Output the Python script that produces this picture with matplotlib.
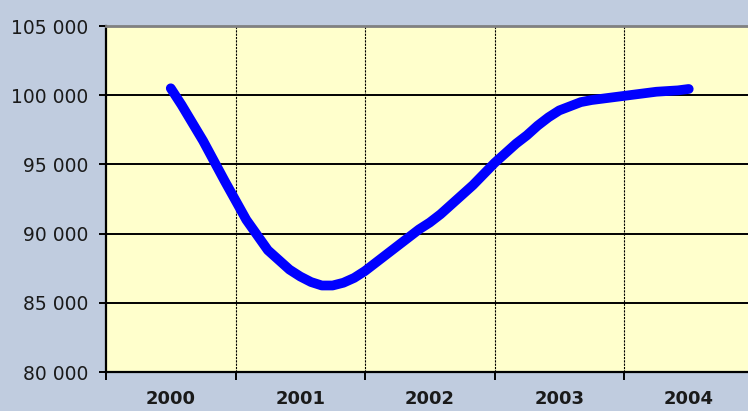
import numpy as np
import matplotlib
matplotlib.use('Agg')
import matplotlib.pyplot as plt
from matplotlib.ticker import FuncFormatter, FixedLocator

# monthly values, Jan 2000 .. Jan 2004
values = [100500, 99300, 98000, 96700, 95250, 93800, 92400, 91000, 89900, 88800,
          88100, 87400, 86900, 86500, 86250, 86250, 86450, 86800, 87300, 87900,
          88500, 89100, 89700, 90300, 90800, 91400, 92100, 92800, 93500, 94300,
          95100, 95800, 96500, 97100, 97800, 98400, 98900, 99200, 99500, 99650,
          99750, 99850, 99950, 100050, 100150, 100250, 100300, 100350, 100450]
years = ['2000', '2001', '2002', '2003', '2004']
months = np.arange(len(values)) / 12.0

BG = '#C0CCDF'
PLOT_BG = '#FFFFCC'

fig = plt.figure(figsize=(7.48, 4.11), dpi=100)
fig.patch.set_facecolor(BG)
ax = fig.add_axes([106 / 748, 39 / 411, 647.5 / 748, 346 / 411])
ax.set_facecolor(PLOT_BG)

ax.plot(months, values, color='#0000FF', lw=7, solid_capstyle='round',
        solid_joinstyle='round', zorder=3)

ax.set_xlim(-0.5, 4.5)
ax.set_ylim(80000, 105000)

# y axis
ax.set_yticks(np.arange(80000, 105001, 5000))
ax.yaxis.set_major_formatter(FuncFormatter(lambda v, p: f'{int(v):,}'.replace(',', ' ')))
ax.tick_params(axis='y', direction='out', length=5, width=1.4, pad=8,
               labelsize=13.5, labelcolor='#1a1a1a')
for y in range(85000, 105000, 5000):
    ax.axhline(y, color='black', lw=1.4, zorder=1)

# x axis: labels at centers, tick marks at category boundaries
ax.xaxis.set_major_locator(FixedLocator(range(len(years))))
ax.set_xticklabels(years, fontweight='bold', fontsize=13, color='#1a1a1a')
ax.xaxis.set_minor_locator(FixedLocator(np.arange(-0.5, 4.6, 1.0)))
ax.tick_params(axis='x', which='major', length=0, pad=13)
ax.tick_params(axis='x', which='minor', direction='out', length=5.5, width=1.4)
for x in np.arange(0.5, 4.0, 1.0):
    ax.axvline(x, color='black', lw=0.8, linestyle=(0, (2, 1)), zorder=1)

ax.spines['left'].set_linewidth(1.6)
ax.spines['bottom'].set_linewidth(1.6)
ax.spines['top'].set_color('#808080')
ax.spines['top'].set_linewidth(2)
ax.spines['right'].set_visible(False)

fig.savefig('out.png', dpi=100, facecolor=BG)
